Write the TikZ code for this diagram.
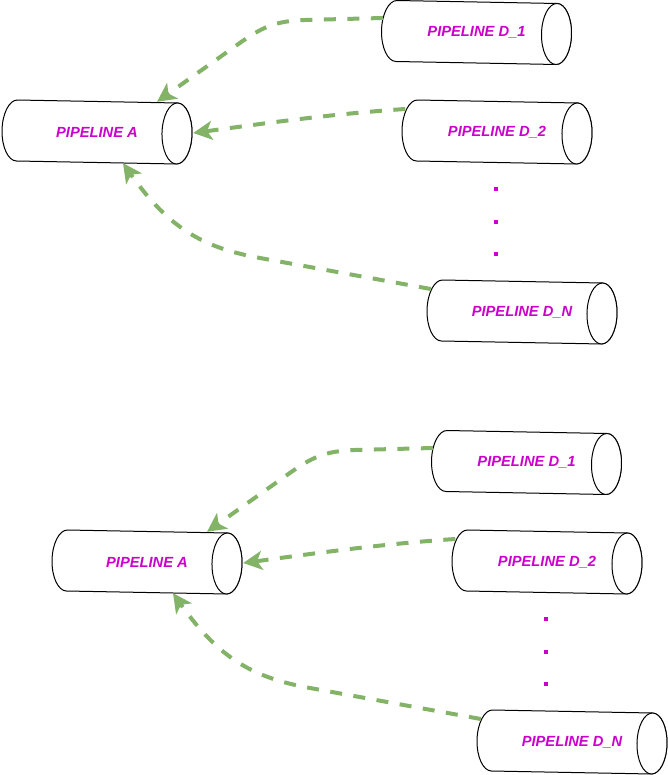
\documentclass[tikz,border=0pt]{standalone}
\usepackage{fontspec}
\setmainfont{Liberation Sans}
\usetikzlibrary{arrows.meta}
\definecolor{flowgreen}{HTML}{82B366}
\definecolor{labelmag}{HTML}{CC00CC}
\tikzset{
  cylline/.style={draw=black, line width=1pt, fill=white},
  cylbox/.style={draw=none, minimum width=190pt, minimum height=61pt, inner sep=0pt},
  cyltext/.style={text=labelmag, font=\fontsize{14.7}{17}\selectfont\bfseries\itshape, inner sep=0pt},
  dotsq/.style={fill=labelmag, draw=none, minimum size=4pt, inner sep=0pt},
  flow/.style={draw=flowgreen, line width=4pt, dash pattern=on 12pt off 11.5pt,
    -{Stealth[length=19pt, width=19pt, inset=5pt]}}
}
\newcommand\drawmycyl[2]{%
  \begin{scope}[shift={(#1,#2)}, rotate=-1.07]
    \path[cylline] (80,-30.5) -- (-80,-30.5)
      arc[start angle=-90, end angle=-270, x radius=15, y radius=30.5]
      -- (80,30.5) arc[start angle=90, end angle=-90, x radius=15, y radius=30.5] -- cycle;
    \draw[cylline] (80,0) ellipse [x radius=15, y radius=30.5];
  \end{scope}}
\begin{document}
\begin{tikzpicture}[x=1pt, y=-1pt]
\useasboundingbox (0,0) rectangle (668,775);
\foreach \g/\dx/\dy in {1/0/0, 2/50/430} {
  \begin{scope}[shift={(\dx,\dy)}]
    \drawmycyl{97}{132}
    \drawmycyl{476.5}{32.5}
    \drawmycyl{497}{132}
    \drawmycyl{522}{312}
    \node[cylbox] (a\g) at (97,132) {};
    \node[cylbox] (da\g) at (476.5,32.5) {};
    \node[cylbox] (db\g) at (497,132) {};
    \node[cylbox] (dn\g) at (522,312) {};
    \node[cyltext] (ta\g) at (a\g) {PIPELINE A};
    \node[cyltext] (tda\g) at (da\g) {PIPELINE D\_1};
    \node[cyltext] (tdb\g) at (db\g) {PIPELINE D\_2};
    \node[cyltext] (tdn\g) at (dn\g) {PIPELINE D\_N};
    \node[dotsq] (p1\g) at (496,189) {};
    \node[dotsq] (p2\g) at (496,222) {};
    \node[dotsq] (p3\g) at (496,254) {};
    \draw[flow] ([shift={(1.5,-14.5)}]da\g.west) -- (305,20)
      .. controls (275,21) and (262,27) .. (237,45)
      -- ([shift={(60,0.5)}]a\g.north);
    \draw[flow] ([shift={(3.5,-23)}]db\g.west)
      .. controls (330,114) and (260,124) .. ([shift={(1,1)}]a\g.east);
    \draw[flow] ([shift={(4,-23)}]dn\g.west) -- (260,258)
      .. controls (205,248) and (170,230) .. ([shift={(26,0.5)}]a\g.south);
  \end{scope}
}
\end{tikzpicture}
\end{document}
